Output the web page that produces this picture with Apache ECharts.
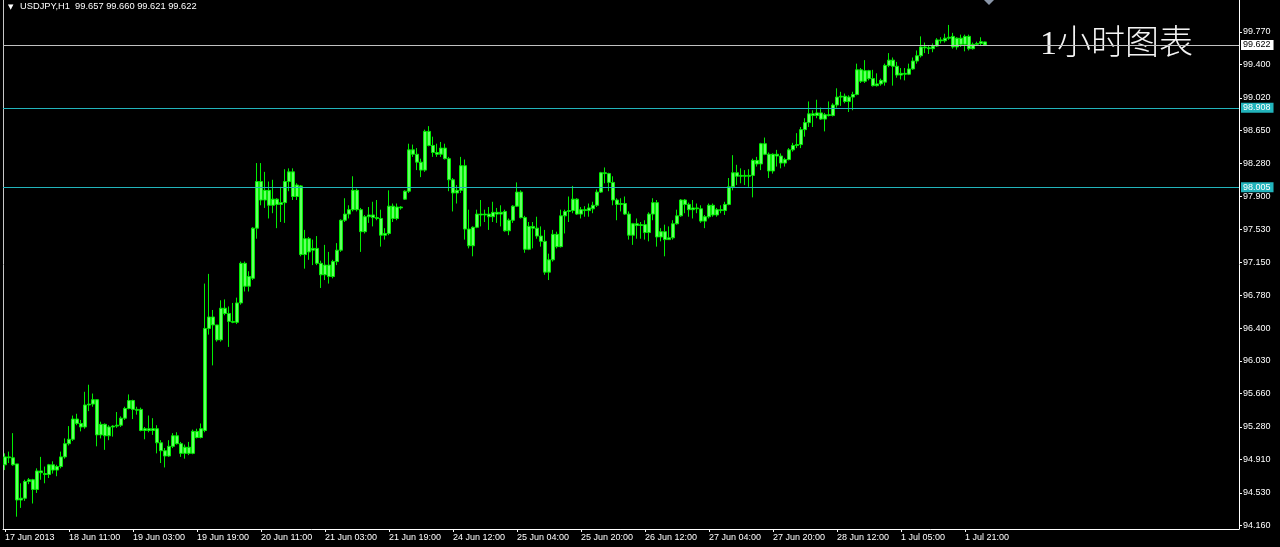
<!DOCTYPE html>
<html><head><meta charset="utf-8">
<script src="https://cdn.jsdelivr.net/npm/echarts@6/dist/echarts.min.js"></script>
<style>html,body{margin:0;padding:0;background:#000;}#c{width:1280px;height:547px;}</style>
</head><body><div id="c"></div>
<script>
const symbolName = 'USDJPY,H1';
const watermark = '1小时图表';
const tickLabels = ['17 Jun 2013','18 Jun 11:00','19 Jun 03:00','19 Jun 19:00','20 Jun 11:00','21 Jun 03:00','21 Jun 19:00','24 Jun 12:00','25 Jun 04:00','25 Jun 20:00','26 Jun 12:00','27 Jun 04:00','27 Jun 20:00','28 Jun 12:00','1 Jul 05:00','1 Jul 21:00'];
const yTicks = [94.16,94.53,94.91,95.28,95.66,96.03,96.40,96.78,97.15,97.53,97.90,98.28,98.65,99.02,99.40,99.77];
const levelLines = [98.908, 98.005];
const bidPrice = 99.622;
const yMin = 94.1202, yMax = 100.1336;
const slotCount = 309;

const opens = [
94.85,94.94,94.93,94.86,94.45,94.47,94.66,94.68,94.57,94.78,94.75,94.74,94.85,94.79,94.83,94.94,95.09,95.14,95.37,95.32,
95.28,95.53,95.54,95.59,95.19,95.31,95.18,95.28,95.29,95.30,95.38,95.49,95.58,95.48,95.48,95.24,95.26,95.24,95.26,95.10,
95.01,94.95,95.06,95.18,95.09,94.98,95.05,94.98,95.23,95.16,95.24,96.40,96.53,96.44,96.27,96.63,96.57,96.48,96.47,96.69,
97.14,96.88,96.97,97.54,98.07,97.86,97.97,97.80,97.87,97.81,97.83,98.07,98.18,97.90,98.02,97.24,97.42,97.29,97.31,97.14,
97.01,97.12,96.99,97.16,97.29,97.63,97.70,97.75,97.97,97.75,97.50,97.67,97.69,97.66,97.65,97.46,97.48,97.79,97.65,97.78,
97.87,97.96,98.43,98.38,98.29,98.20,98.64,98.48,98.40,98.38,98.45,98.33,98.09,97.94,97.97,98.25,97.53,97.34,97.55,97.70,
97.69,97.70,97.67,97.72,97.70,97.73,97.51,97.63,97.79,97.95,97.66,97.30,97.56,97.54,97.45,97.39,97.04,97.18,97.47,97.33,
97.68,97.73,97.74,97.87,97.70,97.75,97.74,97.76,97.80,97.95,98.17,98.16,98.06,97.86,97.81,97.82,97.70,97.46,97.59,97.57,
97.58,97.49,97.70,97.83,97.44,97.50,97.41,97.43,97.59,97.68,97.86,97.81,97.75,97.77,97.76,97.62,97.67,97.80,97.69,97.75,
97.74,97.81,98.01,98.17,98.13,98.14,98.13,98.14,98.31,98.27,98.50,98.38,98.19,98.38,98.36,98.28,98.32,98.43,98.48,98.49,
98.66,98.74,98.84,98.82,98.85,98.78,98.83,98.82,98.94,99.03,99.04,98.98,99.03,99.06,99.34,99.21,99.33,99.24,99.16,99.18,
99.20,99.39,99.45,99.38,99.28,99.30,99.29,99.35,99.44,99.50,99.60,99.59,99.58,99.61,99.68,99.67,99.70,99.72,99.60,99.70,
99.63,99.72,99.58,99.63,99.64,99.657];
const highs = [
94.98,95.00,95.21,94.86,94.64,94.68,94.70,94.69,94.81,94.94,94.83,94.86,94.89,94.85,95.00,95.15,95.29,95.41,95.43,95.36,
95.68,95.76,95.66,95.59,95.34,95.32,95.30,95.30,95.45,95.40,95.51,95.65,95.59,95.51,95.50,95.28,95.41,95.38,95.30,95.13,
95.04,95.13,95.21,95.22,95.11,95.08,95.11,95.25,95.26,95.32,96.91,97.02,96.61,96.44,96.72,96.73,96.65,96.69,96.75,97.16,
97.16,97.05,97.55,98.28,98.28,98.18,98.07,98.09,97.88,98.01,98.21,98.22,98.22,98.05,98.03,97.52,97.44,97.41,97.45,97.17,
97.35,97.27,97.18,97.37,97.64,97.88,97.80,98.13,97.99,97.77,97.69,97.78,97.84,97.86,97.75,97.54,97.97,97.82,97.82,97.79,
97.97,98.50,98.49,98.45,98.33,98.66,98.70,98.58,98.50,98.52,98.50,98.35,98.11,98.03,98.35,98.32,97.75,97.56,97.75,97.86,
97.75,97.78,97.84,97.77,97.80,97.75,97.65,97.80,98.06,97.97,97.68,97.61,97.61,97.67,97.56,97.52,97.25,97.52,97.50,97.75,
97.75,97.90,98.02,97.88,97.78,97.79,97.82,97.84,97.98,98.18,98.23,98.17,98.13,97.88,97.88,97.90,97.73,97.60,97.65,97.61,
97.63,97.72,97.88,97.86,97.54,97.58,97.56,97.63,97.75,97.87,97.87,97.83,97.86,97.82,97.80,97.69,97.82,97.82,97.77,97.80,
97.84,98.11,98.37,98.26,98.22,98.20,98.21,98.33,98.35,98.51,98.57,98.40,98.39,98.43,98.39,98.34,98.45,98.51,98.62,98.69,
98.79,98.98,98.88,99.00,98.91,98.85,98.98,98.96,99.13,99.09,99.07,99.05,99.09,99.41,99.36,99.45,99.34,99.34,99.30,99.24,
99.41,99.53,99.48,99.43,99.36,99.36,99.41,99.48,99.56,99.72,99.65,99.62,99.64,99.70,99.71,99.75,99.85,99.76,99.71,99.74,
99.74,99.74,99.65,99.66,99.71,99.660];
const lows = [
94.79,94.87,94.84,94.26,94.36,94.44,94.63,94.41,94.53,94.68,94.64,94.70,94.75,94.72,94.81,94.92,95.07,95.12,95.30,95.23,
95.26,95.46,95.51,95.06,95.15,95.02,95.13,95.17,95.27,95.28,95.36,95.48,95.37,95.42,95.23,95.14,95.22,95.19,94.98,94.87,
94.82,94.94,95.04,95.08,94.94,94.92,94.96,94.97,95.15,95.15,95.22,96.33,95.98,96.25,96.25,96.55,96.19,96.46,96.45,96.67,
96.82,96.82,96.95,97.42,97.80,97.77,97.65,97.71,97.54,97.61,97.60,97.96,97.86,97.86,97.22,97.08,97.18,97.12,97.12,96.86,
96.95,96.91,96.97,97.12,97.27,97.61,97.65,97.73,97.73,97.27,97.48,97.60,97.56,97.63,97.33,97.41,97.46,97.61,97.63,97.75,
97.86,97.94,98.35,98.20,98.12,98.18,98.47,98.35,98.35,98.35,98.32,97.96,97.73,97.82,97.94,97.41,97.31,97.22,97.54,97.56,
97.61,97.52,97.61,97.60,97.56,97.50,97.46,97.60,97.78,97.65,97.26,97.29,97.31,97.42,97.33,97.01,96.95,97.16,97.31,97.32,
97.48,97.61,97.71,97.69,97.65,97.67,97.67,97.71,97.78,97.94,98.05,97.96,97.80,97.63,97.73,97.69,97.41,97.35,97.42,97.42,
97.41,97.39,97.63,97.33,97.39,97.22,97.41,97.41,97.58,97.67,97.71,97.67,97.65,97.71,97.60,97.54,97.65,97.67,97.67,97.71,
97.69,97.80,97.97,98.03,98.05,98.03,98.01,97.89,98.24,98.20,98.37,98.11,98.16,98.24,98.22,98.24,98.31,98.41,98.45,98.45,
98.58,98.69,98.69,98.79,98.77,98.64,98.81,98.81,98.91,98.93,98.96,98.86,98.88,99.05,99.19,99.19,99.22,99.15,99.15,99.16,
99.16,99.37,99.16,99.25,99.23,99.22,99.28,99.34,99.41,99.48,99.53,99.52,99.54,99.60,99.64,99.65,99.68,99.58,99.57,99.60,
99.55,99.56,99.57,99.61,99.61,99.621];
const closes = [
94.94,94.93,94.85,94.45,94.47,94.66,94.68,94.57,94.78,94.76,94.74,94.85,94.79,94.83,94.94,95.09,95.14,95.37,95.32,95.28,
95.53,95.54,95.59,95.19,95.31,95.18,95.28,95.29,95.30,95.38,95.49,95.58,95.48,95.47,95.24,95.26,95.24,95.26,95.10,95.01,
94.95,95.06,95.18,95.09,94.98,95.05,94.98,95.23,95.16,95.26,96.40,96.53,96.44,96.27,96.63,96.57,96.48,96.47,96.69,97.14,
96.88,96.99,97.54,98.07,97.86,97.97,97.80,97.87,97.81,97.83,98.07,98.18,97.90,98.03,97.24,97.42,97.27,97.31,97.14,97.01,
97.12,96.99,97.16,97.29,97.63,97.70,97.75,97.97,97.75,97.50,97.67,97.69,97.66,97.65,97.46,97.48,97.79,97.65,97.78,97.77,
97.96,98.43,98.38,98.29,98.20,98.64,98.48,98.40,98.38,98.45,98.33,98.09,97.94,97.97,98.25,97.53,97.34,97.55,97.70,97.69,
97.70,97.67,97.72,97.70,97.72,97.51,97.63,97.79,97.95,97.66,97.30,97.56,97.54,97.45,97.39,97.04,97.18,97.47,97.33,97.68,
97.73,97.74,97.87,97.70,97.75,97.74,97.77,97.80,97.95,98.17,98.16,98.06,97.86,97.81,97.82,97.70,97.46,97.59,97.57,97.58,
97.49,97.70,97.83,97.44,97.50,97.41,97.43,97.59,97.68,97.86,97.81,97.75,97.77,97.76,97.62,97.67,97.80,97.69,97.75,97.74,
97.81,98.01,98.17,98.13,98.14,98.13,98.14,98.31,98.27,98.50,98.38,98.19,98.38,98.36,98.28,98.32,98.43,98.48,98.49,98.66,
98.74,98.84,98.82,98.85,98.78,98.83,98.82,98.94,99.03,99.04,98.98,99.03,99.06,99.34,99.21,99.33,99.24,99.16,99.18,99.22,
99.39,99.45,99.38,99.28,99.30,99.29,99.35,99.44,99.50,99.60,99.59,99.58,99.61,99.68,99.67,99.70,99.71,99.60,99.70,99.63,
99.72,99.58,99.63,99.64,99.66,99.622];

const categories = [];
for (let i = 0; i < slotCount; i++) categories.push(String(i));
const candles = opens.map((o, i) => [o, closes[i], lows[i], highs[i]]);
const last = opens.length - 1;
const header = symbolName + '  ' + [opens[last], highs[last], lows[last], closes[last]].map(v => v.toFixed(3)).join(' ');
const showTick = (i) => i % 16 === 0 && (i / 16) < tickLabels.length;
const FONT = 'Liberation Sans, DejaVu Sans, sans-serif';
const TEAL = '#22b4bc';

const chart = echarts.init(document.getElementById('c'), null, {renderer: 'canvas'});
chart.setOption({
  backgroundColor: '#000000',
  animation: false,
  grid: {left: 3, right: 41, top: 0, bottom: 18},
  xAxis: {
    type: 'category', data: categories, boundaryGap: true,
    axisLine: {show: true, lineStyle: {color: '#ffffff', width: 1}},
    axisTick: {show: true, alignWithLabel: true, length: 3, interval: showTick, lineStyle: {color: '#ffffff'}},
    axisLabel: {interval: showTick, formatter: (v, i) => tickLabels[Math.round(Number(v) / 16)] || '', align: 'left',
      color: '#ffffff', fontSize: 9, fontFamily: FONT, margin: 4},
    splitLine: {show: false}
  },
  yAxis: [{
    type: 'value', position: 'right', min: yMin, max: yMax,
    axisLine: {show: true, lineStyle: {color: '#ffffff', width: 1}},
    axisTick: {show: true, customValues: yTicks, length: 3, lineStyle: {color: '#ffffff'}},
    axisLabel: {customValues: yTicks, formatter: v => Number(v).toFixed(3), color: '#ffffff', fontSize: 9, fontFamily: FONT, margin: 4},
    splitLine: {show: false}
  }, {
    type: 'value', position: 'left', min: yMin, max: yMax,
    axisLine: {show: true, lineStyle: {color: '#c8c8c8', width: 1}},
    axisTick: {show: false}, axisLabel: {show: false}, splitLine: {show: false}
  }],
  series: [{
    type: 'candlestick', data: candles, barWidth: 3, large: false,
    itemStyle: {color: '#66ff66', color0: '#66ff66', borderColor: '#00ee00', borderColor0: '#00ee00', borderWidth: 1},
    markLine: {
      symbol: ['none', 'none'], silent: true, animation: false, precision: 3,
      label: {position: 'end', distance: 2, fontSize: 9, fontFamily: FONT, padding: [1, 3, 0, 2]},
      data: [
        {yAxis: bidPrice, lineStyle: {color: '#c0c0c0', width: 1, type: 'solid'},
          label: {backgroundColor: '#ffffff', color: '#000000', formatter: bidPrice.toFixed(3)}},
        {yAxis: levelLines[0], lineStyle: {color: TEAL, width: 1, type: 'solid', opacity: 1},
          label: {backgroundColor: TEAL, color: '#ffffff', formatter: levelLines[0].toFixed(3)}},
        {yAxis: levelLines[1], lineStyle: {color: TEAL, width: 1, type: 'solid', opacity: 1},
          label: {backgroundColor: TEAL, color: '#ffffff', formatter: levelLines[1].toFixed(3)}}
      ]
    }
  }],
  graphic: [
    {type: 'text', left: 8, top: 4, style: {text: '▼', fill: '#ffffff', font: '7px DejaVu Sans'}},
    {type: 'text', left: 20, top: 2, style: {text: header, fill: '#ffffff', font: '9.3px ' + FONT}},
    {type: 'text', left: 1040, top: 28, style: {text: watermark, fill: '#f4f4f4', font: '300 34px "Liberation Serif", "Noto Sans CJK SC", serif'}},
    {type: 'polygon', shape: {points: [[984, 0], [994, 0], [989, 5]]}, style: {fill: '#8a96a8'}}
  ]
});
</script></body></html>
